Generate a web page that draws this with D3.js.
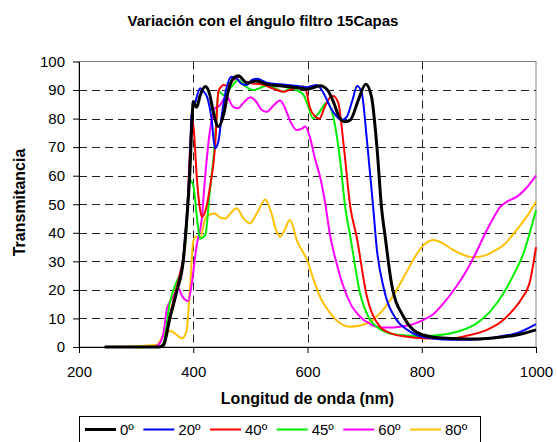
<!DOCTYPE html>
<html>
<head>
<meta charset="utf-8">
<script src="https://cdn.jsdelivr.net/npm/d3@7"></script>
<style>
  html, body { margin: 0; padding: 0; background: #fff; }
  svg { display: block; font-family: "Liberation Sans", Arial, sans-serif; }
</style>
</head>
<body>
<svg id="chart" width="557" height="442"></svg>
<script>
// ---- Data ----
const chartTitle = "Variación con el ángulo filtro 15Capas";
const xTitle = "Longitud de onda (nm)";
const yTitle = "Transmitancia";
const xTicks = [200, 400, 600, 800, 1000];
const yTicks = [0, 10, 20, 30, 40, 50, 60, 70, 80, 90, 100];
const seriesNames = ["0º", "20º", "40º", "45º", "60º", "80º"];
const seriesColors = ["#000000", "#0000ff", "#ff0000", "#00ee00", "#ff00ff", "#ffc000"];

const wl0 = [245,340,348,359,371,383,388,394,398,400,406,412,421,429,435,444,453,461,470,479,494,511,528,552,575,599,622,635,645,657,666,675,689,702,712,721,730,736,747,768,785,803,830,850,880,914,940,966,1000];
const t0  = [0,0,0.7,10,19.4,31,43,61,80,86,84,88,91.2,88.3,82.4,77.2,81.3,89.4,94.1,95,92.5,93.2,92,91.5,91,90.3,91.5,90,86,80,78.9,79.5,86.5,92,87.7,71.3,48,38.6,22.3,10.6,6,4.2,3.2,3,2.8,3,3.5,4.2,6];

const wl20 = [245,340,348,359,371,383,390,394,397,404,412,418,424,432,438,444,450,458,467,476,486,494,502,511,530,552,580,600,616,628,640,650,660,669,678,687,695,704,715,721,733,756,775,791,820,850,880,914,940,966,1000];
const t20  = [0,0,1,10.5,20,32,50,65,81.3,86,90.6,89.5,87.7,80,69.6,72,81.3,90.6,94.7,94,92,91.8,93.5,94,92.5,92,91.5,91,91.8,89,84,81,79.5,80.7,86,91.4,88.9,72.5,49,35,21,9.5,6,4.2,3,2.5,2.5,3,3.8,4.8,8];

const wl40 = [245,340,348,359,371,377,383,390,395,398,401,406,412,415,421,429,438,444,448,453,460,470,482,490,500,523,540,558,575,593,598,604,612,621,630,640,645,654,663,675,686,704,727,750,774,810,850,880,914,940,960,975,990,1000];
const t40  = [0,0,1,11,21,26,32,50,72,79.5,76,60,48,45.6,47.4,55.6,69.6,89.4,91,91.8,91.5,93.5,94.7,93,92.5,91.8,90.5,89.4,90.5,91.2,89.5,84,81,80,84,87.5,87.9,85.4,71.3,49,38.6,17.6,7.1,4.5,3.6,3,3,4,6,9,13,17,23.5,35];

const wl45 = [245,340,348,359,371,380,388,394,400,406,412,421,429,438,444,453,467,479,490,505,520,531,545,558,569,580,593,600,610,620,634,645,657,666,675,692,708,721,740,762,800,832,865,896,920,943,960,978,1000];
const t45  = [0,0,1.5,15.5,22.9,27.6,40.4,58.5,56.7,46.2,38,39.2,54.4,72,89.4,88.3,91.2,93.5,91.5,90,91,91.8,90.5,89.4,90.6,90,88.3,85,80,82,85.6,80.7,65.5,49,38.6,18.8,10,7.1,5,4.2,3.8,4.2,5.5,8.3,12.5,18.8,25,32.8,48];

const wl60 = [245,330,340,348,354,359,366,374,380,391,397,406,415,421,429,438,446,458,470,478,490,500,510,520,529,540,552,560,570,581,590,596,604,613,622,631,640,650,663,677,692,710,721,740,762,785,803,820,838,860,879,895,914,925,937,950,966,980,1000];
const t60  = [0,0,1,5,13.5,15.9,18,20.6,18,16.1,21.7,35.7,45,60,75.4,83.6,84.5,87.7,84.1,83.6,86,87.5,86,83,82.4,84.5,86.3,84,79,76,76.5,77.2,73.7,66,59.6,50.3,38.6,30,21.1,14.5,10.6,8,7.1,6.8,7.1,8,9.5,11.5,15.3,21,27,33,41,45,49,51,52.6,55,60];

const wl80 = [245,336,348,356,362,371,380,388,394,400,405,412,421,430,438,446,456,466,476,488,499,512,526,535,545,552,560,569,575,581,590,599,610,622,640,656,675,692,710,730,756,770,785,800,820,835,855,870,890,910,925,945,966,985,1000];
const t80  = [0,0.7,4.2,5.5,5.5,4.2,3,5.4,19.4,36.9,38.6,38,45,46.5,46.8,45.5,45,47,48.6,45,43.3,47,51.7,48,41,38.6,41,44.5,42,37.5,34,30.5,24,17.6,11.8,8.5,7.1,7.5,8.9,12.5,20,25,30.5,35,37.5,36.5,34,32.5,31.4,32,33.4,36,41,46,51];

const seriesX = [wl0, wl20, wl40, wl45, wl60, wl80];
const seriesY = [t0, t20, t40, t45, t60, t80];

// ---- Layout ----
const svg = d3.select("#chart");
const pLeft = 79, pRight = 536, pTop = 61.5, pBottom = 347;
const x = d3.scaleLinear().domain([200, 1000]).range([pLeft, pRight]);
const y = d3.scaleLinear().domain([0, 100]).range([pBottom, pTop]);

// Title
svg.append("text")
  .attr("x", 263).attr("y", 26)
  .attr("text-anchor", "middle")
  .attr("font-size", "15px").attr("font-weight", "bold")
  .attr("fill", "#000")
  .text(chartTitle);

// Plot border (gray top/right)
svg.append("rect")
  .attr("x", pLeft).attr("y", pTop)
  .attr("width", pRight - pLeft).attr("height", pBottom - pTop)
  .attr("fill", "none").attr("stroke", "#808080").attr("stroke-width", 1);

// Gridlines
const grid = svg.append("g");
grid.selectAll("line.h").data(yTicks.filter(v => v > 0 && v < 100)).join("line")
  .attr("x1", pLeft).attr("x2", pRight)
  .attr("y1", d => Math.round(y(d)) + 0.5).attr("y2", d => Math.round(y(d)) + 0.5)
  .attr("stroke", "#222").attr("stroke-width", 1).attr("stroke-dasharray", "8,5");
grid.selectAll("line.v").data(xTicks.filter(v => v > 200 && v < 1000)).join("line")
  .attr("x1", d => Math.round(x(d)) + 0.5).attr("x2", d => Math.round(x(d)) + 0.5)
  .attr("y1", pTop).attr("y2", pBottom)
  .attr("stroke", "#222").attr("stroke-width", 1).attr("stroke-dasharray", "8,5");

// Series lines
const line = d3.line().curve(d3.curveMonotoneX);
const order = [5, 4, 3, 2, 1, 0];
order.forEach(i => {
  const pts = seriesX[i].map((w, k) => [x(w), y(seriesY[i][k])]);
  svg.append("path")
    .attr("d", line(pts))
    .attr("fill", "none")
    .attr("stroke", seriesColors[i])
    .attr("stroke-width", i === 0 ? 3 : 2)
    .attr("stroke-linejoin", "round");
});

// Axes
const yAxis = d3.axisLeft(y).tickValues(yTicks).tickFormat(d3.format("d")).tickSize(6).tickSizeOuter(0).tickPadding(8);
const gy = svg.append("g").attr("transform", `translate(${pLeft},0)`).call(yAxis);
gy.selectAll("text").attr("font-size", "15px").attr("fill", "#000").attr("font-family", "Liberation Sans, Arial, sans-serif");
gy.selectAll("line, path").attr("stroke", "#000");

const xAxis = d3.axisBottom(x).tickValues(xTicks).tickFormat(d3.format("d")).tickSize(6).tickSizeOuter(0).tickPadding(13.5);
const gx = svg.append("g").attr("transform", `translate(0,${pBottom})`).call(xAxis);
gx.selectAll("text").attr("font-size", "15px").attr("fill", "#000").attr("font-family", "Liberation Sans, Arial, sans-serif");
gx.selectAll("line, path").attr("stroke", "#000");

// Axis titles
svg.append("text")
  .attr("x", (pLeft + pRight) / 2).attr("y", 404)
  .attr("text-anchor", "middle")
  .attr("font-size", "16px").attr("font-weight", "bold")
  .text(xTitle);
svg.append("text")
  .attr("transform", "translate(25,202.5) rotate(-90)")
  .attr("text-anchor", "middle")
  .attr("font-size", "16px").attr("font-weight", "bold")
  .text(yTitle);

// Legend
const lg = svg.append("g");
lg.append("rect")
  .attr("x", 79.5).attr("y", 416.5).attr("width", 401).attr("height", 32)
  .attr("fill", "#fff").attr("stroke", "#000").attr("stroke-width", 1);
let cx = 85;
seriesNames.forEach((name, i) => {
  lg.append("line")
    .attr("x1", cx).attr("x2", cx + 31)
    .attr("y1", 429.5).attr("y2", 429.5)
    .attr("stroke", seriesColors[i]).attr("stroke-width", i === 0 ? 3 : 2);
  const t = lg.append("text")
    .attr("x", cx + 35).attr("y", 435)
    .attr("font-size", "15px").attr("fill", "#000")
    .text(name);
  const w = t.node().getComputedTextLength();
  cx = cx + 35 + w + 9.5;
});
</script>
</body>
</html>
